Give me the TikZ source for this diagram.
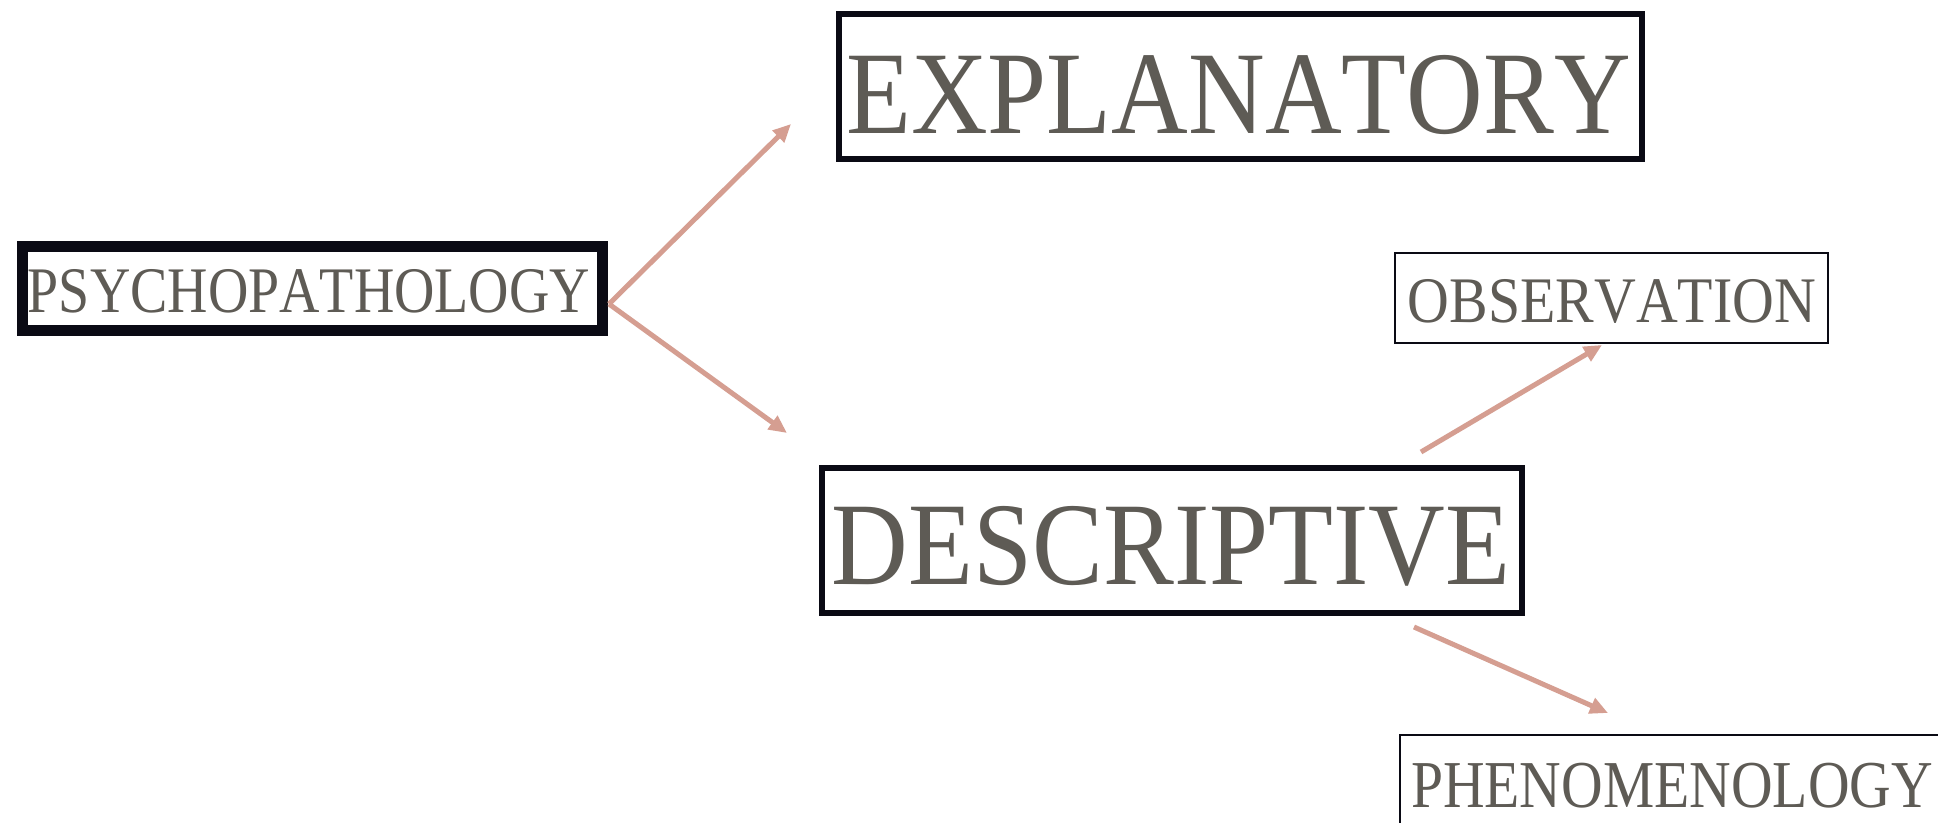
\documentclass[tikz,border=0pt]{standalone}
\usepackage{graphicx}
\usepackage{fontspec}
\setmainfont{Liberation Serif}[Kerning=Off]
\usetikzlibrary{arrows.meta}
\definecolor{txt}{RGB}{94,91,85}
\definecolor{arr}{RGB}{213,158,145}
\definecolor{frame}{RGB}{10,10,20}
\begin{document}
\begin{tikzpicture}[x=1pt,y=-1pt,
  box/.style={draw=frame, rectangle, inner sep=0pt},
  lbl/.style={text=txt, inner sep=0pt, anchor=center},
  conn/.style={draw=arr, line width=5pt, -{Triangle[length=18pt,width=16pt]}}]
\clip (0,0) rectangle (1938,822);
\fill[white] (0,0) rectangle (1938,822);
% boxes
\node[box, line width=11pt, minimum width=580pt, minimum height=84pt] (psy) at (312.5,288.5) {};
\node[box, line width=6pt, minimum width=803pt, minimum height=145pt] (exp) at (1240.5,86.5) {};
\node[box, line width=2pt, minimum width=433pt, minimum height=90pt] (obs) at (1611.5,298) {};
\node[box, line width=6pt, minimum width=700pt, minimum height=145pt] (des) at (1172,540.5) {};
\node[box, line width=2pt, minimum width=544pt, minimum height=102pt] (phe) at (1672,786) {};
% labels
\node[lbl, font=\fontsize{65}{70}\selectfont] (psyt) at (309,291) {\scalebox{0.86}[1]{PSYCHOPATHOLOGY}};
\node[lbl, font=\fontsize{118}{120}\selectfont] (expt) at (1238.5,94.6) {\scalebox{0.90}[1]{EXPLANATORY}};
\node[lbl, font=\fontsize{65}{70}\selectfont] (obst) at (1612,301) {\scalebox{0.89}[1]{OBSERVATION}};
\node[lbl, font=\fontsize{118}{120}\selectfont] (dest) at (1171,546) {\scalebox{0.90}[1]{DESCRIPTIVE}};
\node[lbl, font=\fontsize{67}{70}\selectfont] (phet) at (1672,786) {\scalebox{0.86}[1]{PHENOMENOLOGY}};
% connector end points
\coordinate (p0) at (609,304);
\coordinate (e1) at (791,124);
\coordinate (d1) at (787,433);
\coordinate (o0) at (1421,452);
\coordinate (o1) at (1602,345);
\coordinate (h0) at (1414,627);
\coordinate (h1) at (1608,713);
\draw[conn] (p0) -- (e1);
\draw[conn] (p0) -- (d1);
\draw[conn] (o0) -- (o1);
\draw[conn] (h0) -- (h1);
\end{tikzpicture}
\end{document}
